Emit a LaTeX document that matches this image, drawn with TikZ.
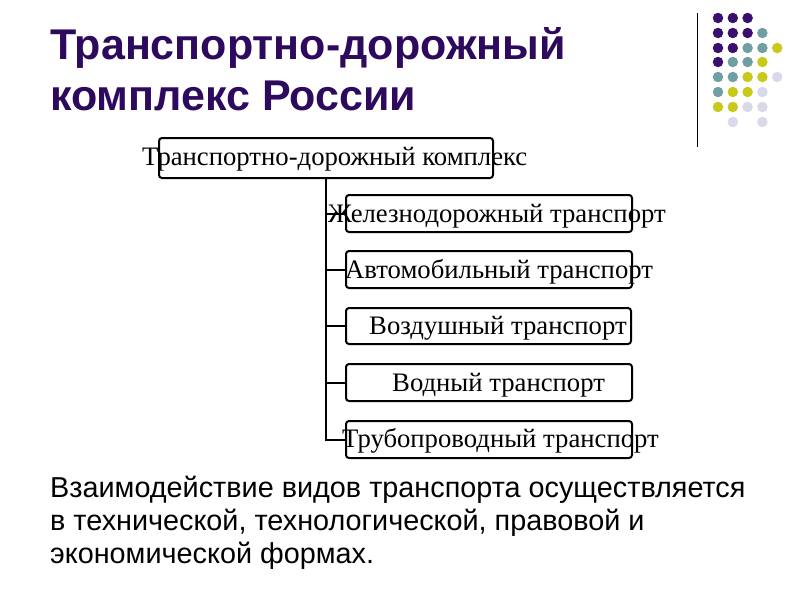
\documentclass[tikz,border=0pt]{standalone}
\usepackage{fontspec}
\setmainfont{Liberation Serif}
\newfontfamily\sansfont{Liberation Sans}
\definecolor{titlepurple}{HTML}{2E0A5E}
\definecolor{dotP}{HTML}{3A0F6E}
\definecolor{dotT}{HTML}{6F9FA3}
\definecolor{dotY}{HTML}{C9C91A}
\definecolor{dotL}{HTML}{D9D9EA}
\begin{document}
\begin{tikzpicture}[x=1pt,y=-1pt,
  box/.style={draw, line width=2pt, rounded corners=3pt, minimum width=#1, minimum height=37pt, inner sep=0pt},
  box/.default=286pt,
  lbl/.style={anchor=base west, inner sep=0pt, font=\fontsize{26.7}{30}\selectfont},
  ttl/.style={anchor=base west, inner sep=0pt, text=titlepurple, font=\sansfont\bfseries\fontsize{43}{50}\selectfont},
  bodytext/.style={anchor=base west, inner sep=0pt, font=\sansfont\fontsize{28.8}{33}\selectfont},
  conn/.style={line width=2pt},
  dot/.style={circle, fill=#1, minimum size=10.5pt, inner sep=0pt}]
\useasboundingbox (0,0) rectangle (800,600);
% title
\node[ttl] (t1) at (50,59) {Транспортно-дорожный};
\node[ttl] (t2) at (50,110) {комплекс России};
% decoration
\draw[line width=1pt] (697,13) -- (697,147);
\foreach \r/\cols in {18/{1/P,2/P,3/P},33/{1/P,2/P,3/P,4/T},48/{1/P,2/P,3/T,4/T,5/Y},62/{1/P,2/T,3/T,4/Y},77/{1/T,2/T,3/Y,4/Y,5/L},92/{1/T,2/Y,3/Y,4/L},107/{1/Y,2/Y,3/L,4/L},122/{2/L,4/L}}{
  \foreach \c/\k in \cols {
    \node[dot=dot\k] at ({718+14.8*(\c-1)},\r) {};
  }
}
% boxes
\node[box=334pt, minimum height=40pt] (top) at (326,158) {};
\node[box] (b1) at (489,213.5) {};
\node[box] (b2) at (489,269.5) {};
\node[box=285pt, minimum height=36pt] (b3) at (488.5,326) {};
\node[box] (b4) at (489,382.5) {};
\node[box] (b5) at (489,439.5) {};
% connectors
\draw[conn] (top.south) |- (b5.west);
\foreach \b in {b1,b2,b3,b4}{
  \draw[conn] (\b.west) -- (\b.west -| top.south);
}
% labels
\node[lbl] (l0) at (142,165) {Транспортно-дорожный комплекс};
\node[lbl] (l1) at (328,222) {Железнодорожный транспорт};
\node[lbl] (l2) at (345,278) {Автомобильный транспорт};
\node[lbl] (l3) at (369,334) {Воздушный транспорт};
\node[lbl] (l4) at (392,391) {Водный транспорт};
\node[lbl] (l5) at (342,447) {Трубопроводный транспорт};
% bottom text
\node[bodytext] (body1) at (50,497) {Взаимодействие видов транспорта осуществляется};
\node[bodytext] (body2) at (50,530) {в технической, технологической, правовой и};
\node[bodytext] (body3) at (50,563) {экономической формах.};
\end{tikzpicture}
\end{document}
